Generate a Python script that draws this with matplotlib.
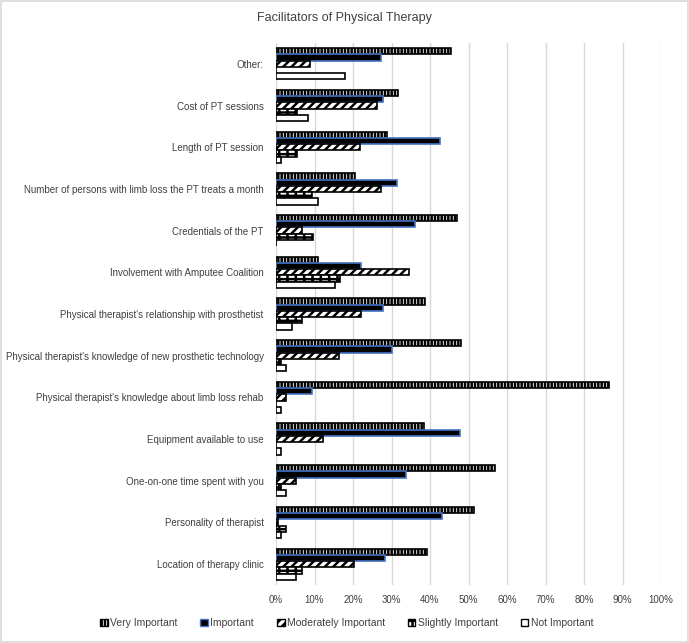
import matplotlib.pyplot as plt
from matplotlib.patches import Rectangle, Patch
import numpy as np

plt.rcParams['font.family'] = ['Liberation Sans', 'DejaVu Sans']
plt.rcParams['hatch.linewidth'] = 1.8

# categories, top to bottom as in the chart
categories = [
    "Other:",
    "Cost of PT sessions",
    "Length of PT session",
    "Number of persons with limb loss the PT treats a month",
    "Credentials of the PT",
    "Involvement with Amputee Coalition",
    "Physical therapist's relationship with prosthetist",
    "Physical therapist's knowledge of new prosthetic technology",
    "Physical therapist's knowledge about limb loss rehab",
    "Equipment available to use",
    "One-on-one time spent with you",
    "Personality of therapist",
    "Location of therapy clinic",
]

very_important = [45.4, 31.8, 28.8, 20.6, 47.1, 11.0, 38.8, 48.0, 86.4, 38.4, 56.9, 51.3, 39.1]
important = [27.2, 27.8, 42.5, 31.4, 36.1, 22.0, 27.8, 30.1, 9.4, 47.9, 33.8, 43.2, 28.4]
moderately_important = [8.9, 26.3, 21.9, 27.3, 6.8, 34.5, 22.1, 16.3, 2.5, 12.1, 5.2, 0.6, 20.2]
slightly_important = [0.0, 5.5, 5.4, 9.4, 9.5, 16.7, 6.8, 1.2, 0.0, 0.0, 1.2, 2.6, 6.7]
not_important = [18.0, 8.2, 1.2, 10.8, 0.0, 15.3, 4.1, 2.5, 1.2, 1.3, 2.6, 1.3, 5.2]

series = [
    ("Very Important", very_important, dict(facecolor='white', edgecolor='black', hatch='|||||')),
    ("Important", important, dict(facecolor='black', edgecolor='#4472C4')),
    ("Moderately Important", moderately_important, dict(facecolor='white', edgecolor='black', hatch='////')),
    ("Slightly Important", slightly_important, dict(facecolor='white', edgecolor='black', hatch='++')),
    ("Not Important", not_important, dict(facecolor='white', edgecolor='black')),
]

fig = plt.figure(figsize=(6.89, 6.43), dpi=100)
fig.patches.append(Rectangle((0.002, 0.002), 0.996, 0.996, transform=fig.transFigure,
                             facecolor='white', edgecolor='#d9d9d9', linewidth=1.2, zorder=-1))
ax = fig.add_axes([0.4006, 0.0902, 0.5588, 0.8429])

n = len(categories)
ypos = np.arange(n)[::-1]  # first category at the top
h = 0.15
handles = []
for j, (name, vals, style) in enumerate(series):
    offs = (2 - j) * h
    ax.barh(ypos + offs, vals, height=h, linewidth=1.2, zorder=3, **style)
    handles.append(Patch(label=name, linewidth=1.0, **style))

ax.set_xlim(0, 100)
ax.set_ylim(-0.5, n - 0.5)
ax.set_xticks(np.arange(0, 101, 10))
ax.set_xticklabels([f"{v}%" for v in range(0, 101, 10)])
ax.set_yticks(ypos)
ax.set_yticklabels(categories)
ax.tick_params(axis='both', length=0, labelsize=7, labelcolor='#404040')
ax.tick_params(axis='y', pad=9)
ax.tick_params(axis='x', pad=7)
ax.xaxis.grid(True, color='#d9d9d9', linewidth=1.0, zorder=0)
for s in ax.spines.values():
    s.set_visible(False)

fig.text(0.5, 0.972, "Facilitators of Physical Therapy", ha='center', va='center',
         fontsize=9, color='#404040')

fig.legend(handles=handles, loc='center', bbox_to_anchor=(0.503, 0.031), ncol=5,
           frameon=False, fontsize=7.5, handlelength=0.75, handleheight=0.75,
           handletextpad=0.2, columnspacing=2.2, labelcolor='#404040')

fig.savefig('out.png', dpi=100)
